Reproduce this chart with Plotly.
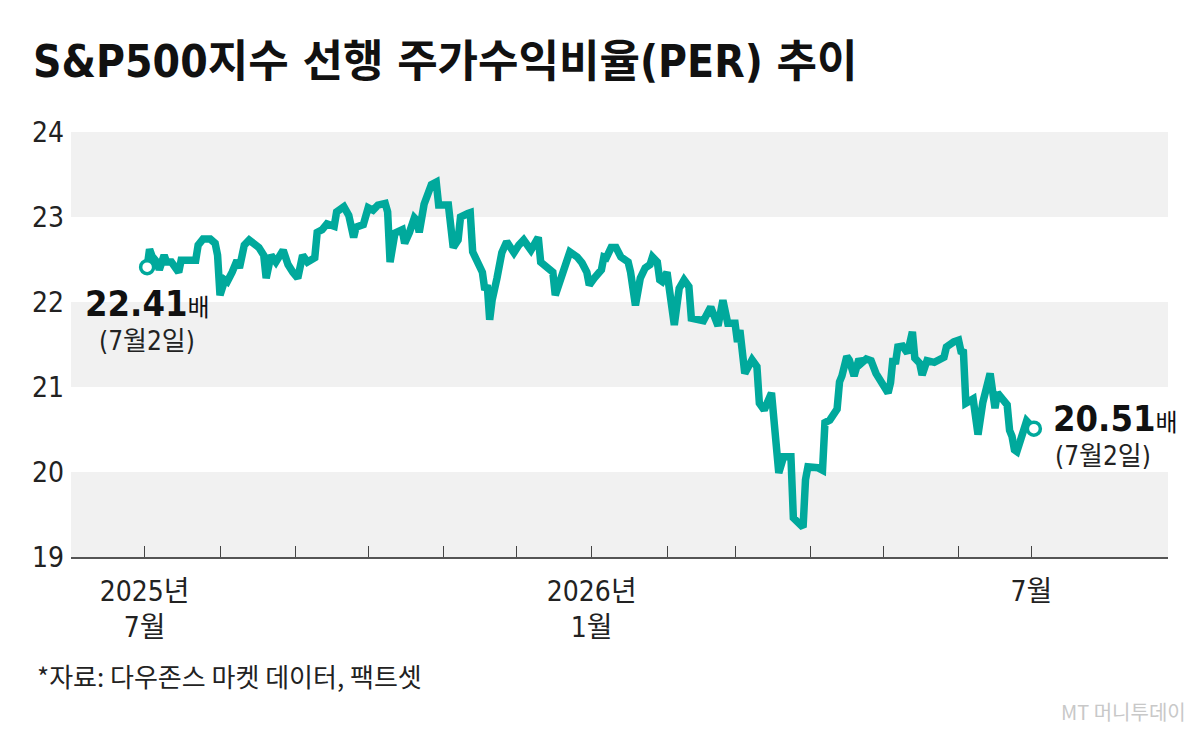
import plotly.graph_objects as go

# ---------------- data ----------------
DATES = [
    "2025-07-02", "2025-07-03", "2025-07-04", "2025-07-06", "2025-07-07", "2025-07-09", "2025-07-10",
    "2025-07-12", "2025-07-15", "2025-07-16", "2025-07-19", "2025-07-22", "2025-07-23", "2025-07-25",
    "2025-07-28", "2025-07-30", "2025-07-31", "2025-08-01", "2025-08-03", "2025-08-04", "2025-08-06",
    "2025-08-08", "2025-08-09", "2025-08-11", "2025-08-13", "2025-08-14", "2025-08-17", "2025-08-19",
    "2025-08-20", "2025-08-22", "2025-08-24", "2025-08-27", "2025-08-29", "2025-08-31", "2025-09-02",
    "2025-09-04", "2025-09-06", "2025-09-09", "2025-09-10", "2025-09-12", "2025-09-14", "2025-09-17",
    "2025-09-18", "2025-09-21", "2025-09-23", "2025-09-25", "2025-09-26", "2025-09-29", "2025-10-01",
    "2025-10-03", "2025-10-05", "2025-10-08", "2025-10-09", "2025-10-10", "2025-10-12", "2025-10-15",
    "2025-10-16", "2025-10-18", "2025-10-20", "2025-10-21", "2025-10-22", "2025-10-24", "2025-10-27",
    "2025-10-29", "2025-10-30", "2025-11-03", "2025-11-04", "2025-11-05", "2025-11-07", "2025-11-08",
    "2025-11-11", "2025-11-12", "2025-11-13", "2025-11-15", "2025-11-17", "2025-11-18", "2025-11-19",
    "2025-11-20", "2025-11-21", "2025-11-23", "2025-11-25", "2025-11-27", "2025-11-29", "2025-11-30",
    "2025-12-02", "2025-12-04", "2025-12-07", "2025-12-10", "2025-12-11", "2025-12-14", "2025-12-16",
    "2025-12-17", "2025-12-18", "2025-12-20", "2025-12-21", "2025-12-23", "2025-12-26", "2025-12-28",
    "2025-12-30", "2025-12-31", "2026-01-02", "2026-01-05", "2026-01-06", "2026-01-07", "2026-01-09",
    "2026-01-11", "2026-01-13", "2026-01-16", "2026-01-17", "2026-01-19", "2026-01-21", "2026-01-23",
    "2026-01-25", "2026-01-26", "2026-01-28", "2026-01-29", "2026-01-30", "2026-02-01", "2026-02-04",
    "2026-02-06", "2026-02-08", "2026-02-10", "2026-02-11", "2026-02-16", "2026-02-19", "2026-02-22",
    "2026-02-24", "2026-02-26", "2026-03-01", "2026-03-02", "2026-03-03", "2026-03-05", "2026-03-08",
    "2026-03-09", "2026-03-10", "2026-03-11", "2026-03-13", "2026-03-16", "2026-03-19", "2026-03-21",
    "2026-03-24", "2026-03-25", "2026-03-29", "2026-03-30", "2026-03-31", "2026-04-04", "2026-04-06",
    "2026-04-07", "2026-04-09", "2026-04-12", "2026-04-13", "2026-04-14", "2026-04-16", "2026-04-17",
    "2026-04-19", "2026-04-21", "2026-04-22", "2026-04-24", "2026-04-26", "2026-04-28", "2026-05-03",
    "2026-05-04", "2026-05-05", "2026-05-06", "2026-05-07", "2026-05-09", "2026-05-11", "2026-05-13",
    "2026-05-14", "2026-05-16", "2026-05-17", "2026-05-19", "2026-05-22", "2026-05-26", "2026-05-27",
    "2026-05-30", "2026-06-01", "2026-06-02", "2026-06-03", "2026-06-04", "2026-06-07", "2026-06-09",
    "2026-06-11", "2026-06-14", "2026-06-16", "2026-06-17", "2026-06-19", "2026-06-21", "2026-06-22",
    "2026-06-23", "2026-06-24", "2026-06-25", "2026-06-29", "2026-07-02",
]

PER = [
    22.41, 22.62, 22.54, 22.47, 22.38, 22.55, 22.47,
    22.47, 22.35, 22.49, 22.49, 22.49, 22.67, 22.74,
    22.74, 22.69, 22.55, 22.08, 22.26, 22.24, 22.35,
    22.49, 22.40, 22.67, 22.73, 22.71, 22.64, 22.55,
    22.28, 22.55, 22.47, 22.61, 22.44, 22.35, 22.28,
    22.55, 22.47, 22.52, 22.82, 22.85, 22.92, 22.89,
    23.06, 23.12, 23.02, 22.76, 22.88, 22.91, 23.11,
    23.08, 23.14, 23.16, 23.06, 22.47, 22.81, 22.85,
    22.69, 22.82, 22.99, 22.96, 22.82, 23.15, 23.38,
    23.41, 23.14, 23.14, 22.85, 22.64, 22.73, 23.00,
    23.04, 23.05, 22.59, 22.47, 22.35, 22.14, 22.20,
    21.79, 22.02, 22.28, 22.58, 22.71, 22.64, 22.58,
    22.67, 22.73, 22.61, 22.76, 22.47, 22.41, 22.35,
    22.08, 22.16, 22.34, 22.42, 22.59, 22.53, 22.46,
    22.35, 22.20, 22.28, 22.38, 22.53, 22.52, 22.64,
    22.64, 22.53, 22.47, 22.35, 21.96, 22.28, 22.40,
    22.44, 22.53, 22.47, 22.26, 22.24, 22.35, 21.73,
    22.16, 22.26, 22.18, 21.81, 21.78, 21.94, 21.72,
    22.02, 21.75, 21.75, 21.53, 21.67, 21.16, 21.32,
    21.29, 21.24, 20.81, 20.73, 20.93, 19.99, 20.18,
    20.18, 19.46, 19.35, 19.91, 20.06, 20.05, 20.02,
    20.58, 20.61, 20.74, 21.06, 21.13, 21.36, 21.32,
    21.13, 21.33, 21.28, 21.33, 21.31, 21.16, 20.93,
    21.05, 21.34, 21.27, 21.47, 21.48, 21.40, 21.65,
    21.34, 21.28, 21.14, 21.31, 21.29, 21.35, 21.47,
    21.53, 21.55, 21.42, 21.41, 20.81, 20.86, 20.44,
    20.82, 21.16, 20.75, 20.93, 20.85, 20.79, 20.49,
    20.42, 20.26, 20.24, 20.60, 20.51,
]

TICK_DATES = [
    "2025-07-01", "2025-08-01", "2025-09-01", "2025-10-01", "2025-11-01", "2025-12-01",
    "2026-01-01", "2026-02-01", "2026-03-01", "2026-04-01", "2026-05-01", "2026-06-01",
    "2026-07-01",
]
TICK_TEXT = ["2025년<br>7월", "", "", "", "", "", "2026년<br>1월", "", "", "", "", "", "7월"]
Y_TICKS = [19, 20, 21, 22, 23, 24]

TITLE = "S&P500지수 선행 주가수익비율(PER) 추이"
START_LABEL_DATE = "(7월2일)"
END_LABEL_DATE = "(7월2일)"
UNIT = "배"
SOURCE = "*자료: 다우존스 마켓 데이터, 팩트셋"
BRAND = "MT 머니투데이"

# ---------------- style ----------------
W, H = 1200, 734
L, R, T, B = 71, 32, 132, 177
TEAL = "#00A99C"
BAND = "#F1F1F1"
FONT = "Liberation Sans Narrow, DejaVu Sans Condensed, Noto Sans CJK KR, sans-serif"
KFONT = "Noto Sans CJK KR, sans-serif"

def px_x(p):
    return (p - L) / (W - L - R)

def px_y(p):
    return (H - B - p) / (H - T - B)

fig = go.Figure()

fig.add_trace(go.Scatter(
    x=DATES, y=PER, mode="lines",
    line=dict(color=TEAL, width=7.5, shape="linear"),
    hoverinfo="skip", showlegend=False,
))
fig.add_trace(go.Scatter(
    x=[DATES[0], DATES[-1]], y=[PER[0], PER[-1]], mode="markers",
    marker=dict(size=13, color="white", line=dict(color=TEAL, width=3.5)),
    hoverinfo="skip", showlegend=False,
))

shapes = []
for lo in (19, 21, 23):
    shapes.append(dict(type="rect", xref="paper", x0=0, x1=1, yref="y", y0=lo, y1=lo + 1,
                       fillcolor=BAND, line=dict(width=0), layer="below"))

annotations = [
    dict(xref="x", yref="y", x=DATES[0], y=PER[0], xanchor="center", yanchor="middle",
         xshift=0, yshift=-36, showarrow=False,
         text=f"<b>{PER[0]:.2f}</b><span style='font-family:{KFONT};font-size:24px'>{UNIT}</span>",
         font=dict(family=FONT, size=36, color="#111")),
    dict(xref="x", yref="y", x=DATES[0], y=PER[0], xanchor="center", yanchor="middle",
         xshift=0, yshift=-74, showarrow=False, text=START_LABEL_DATE,
         font=dict(family=FONT, size=26, color="#222")),
    dict(xref="x", yref="y", x=DATES[-1], y=PER[-1], xanchor="left", yanchor="middle",
         xshift=17, yshift=10, showarrow=False,
         text=f"<b>{PER[-1]:.2f}</b><span style='font-family:{KFONT};font-size:24px'>{UNIT}</span>",
         font=dict(family=FONT, size=36, color="#111")),
    dict(xref="x", yref="y", x=DATES[-1], y=PER[-1], xanchor="center", yanchor="middle",
         xshift=69, yshift=-27, showarrow=False, text=END_LABEL_DATE,
         font=dict(family=FONT, size=26, color="#222")),
    dict(xref="paper", yref="paper", x=px_x(35), y=px_y(675), xanchor="left", yanchor="middle",
         showarrow=False, text=SOURCE, font=dict(family=KFONT, size=26, color="#222")),
    dict(xref="paper", yref="paper", x=px_x(1188), y=px_y(711), xanchor="right", yanchor="middle",
         showarrow=False, text=BRAND, font=dict(family=KFONT, size=20, color="#C8C8C8")),
]

fig.update_layout(
    width=W, height=H,
    margin=dict(l=L, r=R, t=T, b=B),
    paper_bgcolor="white", plot_bgcolor="white",
    title=dict(text=f"<b>{TITLE}</b>", xref="container", yref="container",
               x=33 / W, y=1 - 62 / H, xanchor="left", yanchor="middle",
               font=dict(family=FONT, size=44, color="#111")),
    shapes=shapes, annotations=annotations,
    xaxis=dict(type="date", range=["2025-05-31 16:00", "2026-08-26 05:00"],
               tickvals=TICK_DATES, ticktext=TICK_TEXT,
               ticks="inside", ticklen=11, tickwidth=1, tickcolor="#444",
               showline=True, linecolor="#555", linewidth=2, showgrid=False, zeroline=False,
               ticklabelstandoff=8,
               tickfont=dict(family=FONT, size=28, color="#222")),
    yaxis=dict(range=[19, 24], tickvals=Y_TICKS, showgrid=False, zeroline=False,
               showline=False, ticks="", ticklabelstandoff=6,
               tickfont=dict(family=FONT, size=28, color="#222")),
)

fig.write_html("out.html", post_script="document.body.style.margin='0';")
